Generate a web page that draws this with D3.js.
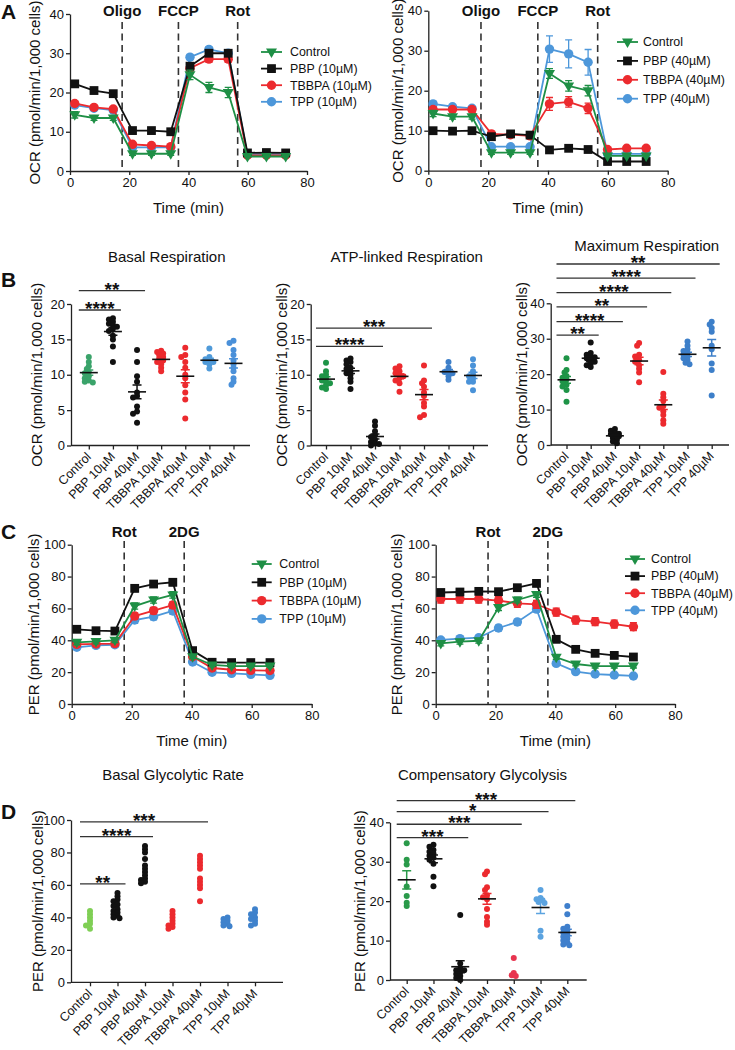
<!DOCTYPE html>
<html><head><meta charset="utf-8">
<script src="https://cdnjs.cloudflare.com/ajax/libs/d3/7.8.5/d3.min.js"></script>
<style>
body{margin:0;background:#fff;}
svg{font-family:"Liberation Sans",Arial,Helvetica,sans-serif;}
</style></head><body>
<script>
// ================= DATA =================
const seriesNames = ["Control","PBP","TBBPA","TPP"];
const legend10 = ["Control","PBP (10µM)","TBBPA (10µM)","TPP (10µM)"];
const legend40 = ["Control","PBP (40µM)","TBBPA (40µM)","TPP (40µM)"];
const categories = ["Control","PBP 10µM","PBP 40µM","TBBPA 10µM","TBBPA 40µM","TPP 10µM","TPP 40µM"];

// Panel A: OCR time course (pmol/min/1,000 cells)
const timeOCR = [1.6,8.1,14.6,21.1,27.5,34,40.5,46.9,53.4,59.9,66.3,72.8];
const ocrInjections = ["Oligo","FCCP","Rot"];
const ocrInjectionTimes = [17.6,36.6,56.6];
const ocr10Control = [14.3,13.5,13.5,4.4,4.4,4.4,24.5,21.3,20.0,3.7,3.7,3.7];
const ocr10PBP     = [22.2,20.5,19.7,10.3,10.3,10.0,26.7,30.0,30.0,4.6,4.7,4.6];
const ocr10TBBPA   = [17.2,16.2,15.8,6.8,6.5,6.2,26.2,28.5,28.5,4.0,4.0,4.0];
const ocr10TPP     = [16.8,16.0,15.5,6.0,6.0,6.0,29.0,31.0,30.0,4.2,4.2,4.2];
const ocr10ControlErr = [0.8,0.6,0.6,0.4,0.4,0.4,1.2,1.3,1.3,0.3,0.3,0.3];
const ocr10PBPErr     = [0.6,0.5,0.5,0.4,0.4,0.4,0.8,0.8,0.8,0.3,0.3,0.3];
const ocr10TBBPAErr   = [0.5,0.5,0.5,0.4,0.4,0.4,0.8,0.8,0.8,0.3,0.3,0.3];
const ocr10TPPErr     = [0.5,0.5,0.5,0.4,0.4,0.4,0.6,0.6,0.6,0.3,0.3,0.3];
const ocr40Control = [14.3,13.5,13.5,4.5,4.5,4.5,24.3,21.2,20.0,3.7,3.7,3.7];
const ocr40PBP     = [10.0,9.9,10.0,8.5,9.2,8.9,5.2,5.6,5.3,2.3,2.3,2.3];
const ocr40TBBPA   = [15.3,15.3,15.3,9.2,9.0,8.7,16.7,17.2,15.6,5.3,5.6,5.6];
const ocr40TPP     = [16.7,16.0,15.6,6.0,6.0,6.0,30.4,29.2,27.1,4.2,4.2,4.2];
const ocr40ControlErr = [0.8,0.6,0.6,0.4,0.4,0.4,1.2,1.3,1.3,0.3,0.3,0.3];
const ocr40PBPErr     = [0.6,0.5,0.5,0.5,0.4,0.4,0.4,0.4,0.4,0.2,0.2,0.2];
const ocr40TBBPAErr   = [0.6,0.6,0.6,0.6,0.5,0.5,1.6,1.3,1.3,0.4,0.4,0.4];
const ocr40TPPErr     = [0.6,0.5,0.5,0.4,0.4,0.4,3.3,3.5,3.2,0.4,0.4,0.4];

// Panel B: individual wells
const basalResp = [
  [12.5,11.8,11.2,10.8,10.4,10.2,9.8,9.5,9.2,9.0,8.9],
  [18,17.8,17.5,17.2,17,16.8,16.5,16.2,15.5,15,14,11.8],
  [13.5,11.8,9.8,9,7,7.5,6.8,5.5,4.5,4.8,3.2],
  [13.4,13.2,13,12.8,12.5,12.2,12,11.8,11.5,11,10.5],
  [13.8,12.8,12.5,11.8,11,10,9.5,8.5,7.5,6.5,3.8],
  [13.7,12.5,12.2,12,11.8,11.5,11.8,10.9],
  [14.8,14.5,13.5,12.8,12,11.5,11,10.5,9.5,9,8.6]
];
const atpResp = [
  [11.7,10.5,10,9.8,9.5,9.2,9,8.8,8.5,8.2,8],
  [12.3,12,11.8,11.5,11,10.8,10.5,10.2,10,9.5,9,8],
  [3.4,2.8,2,1.5,1.2,0.8,0.5,0.3,0.2,0],
  [11.2,10.9,10.5,10.2,10,9.8,9.5,9.2,8.8,7.6],
  [11.3,9.2,8.8,8.3,7.5,7,6,5.5,4.3,4],
  [11.8,11,10.5,10.4,10.2,9.8,9.3],
  [12.2,11.3,10.5,10,9.5,9,9.8,9,7.8]
];
const maxResp = [
  [24.5,21.2,20.5,19.5,19,18.5,18,17,16.5,15.5,12.2],
  [28.9,26,25.5,25,24.8,24.5,24.2,24,23.5,23,22.5,22],
  [4.5,4,3.5,3.2,3,2.8,2.5,2,1.5,1,0.5],
  [28.8,28,25.5,25,24,23.5,22.5,21.5,20.5,17.7],
  [20.6,14.5,13.5,12.5,11,10.5,9.5,8.5,7,6],
  [29.2,28,27,26.5,26,25.5,25,24.5,24,23.2,22.8],
  [34.8,34,33,32,28,27,23,21.2,14]
];
const basalSig = [{to:1,label:"****",at:19.15},{to:2,label:"**",at:21.9}];
const atpSig   = [{to:2,label:"****",at:14.0},{to:4,label:"***",at:16.6}];
const maxSig   = [{to:1,label:"**",at:31.0},{to:2,label:"****",at:34.8},{to:3,label:"**",at:39.0},
                  {to:4,label:"****",at:43.0},{to:5,label:"****",at:47.1},{to:6,label:"**",at:51.1}];

// Panel C: PER time course
const timePER = [1.7,8.1,14.4,21,27.3,33.7,40.3,46.8,53.3,59.7,66.1];
const perInjections = ["Rot","2DG"];
const perInjectionTimes = [17.5,37.5];
const per10Control = [38.7,39.3,40.0,61.5,65.3,68.5,29.7,24.5,23.8,23.8,23.8];
const per10PBP     = [46.9,46.0,45.8,72.6,75.3,76.4,33.5,26.2,26.0,26.0,26.0];
const per10TBBPA   = [37.4,37.7,37.9,55.2,58.6,62.1,29.7,22.6,21.5,21.1,21.0];
const per10TPP     = [35.6,36.8,37.2,52.7,54.8,58.4,26.4,19.9,19.2,18.6,18.0];
const per10Err     = [1.5,1.5,1.5,2.0,2.0,2.0,1.2,1.0,1.0,1.0,1.0];
const per40Control = [38.0,39.1,39.7,60.5,65.3,68.8,29.3,25.1,23.8,23.8,23.8];
const per40PBP     = [70.0,70.3,70.7,70.5,73.0,75.7,40.6,34.3,31.8,30.5,29.5];
const per40TBBPA   = [65.9,65.9,65.9,64.9,63.2,62.6,57.7,52.7,51.7,50.2,48.5];
const per40TPP     = [40.2,41.0,41.6,47.7,51.5,59.6,25.5,20.3,18.8,18.2,17.6];
const per40Err     = [1.5,1.5,1.5,1.8,1.8,1.8,1.3,1.2,1.2,1.2,1.2];
const per40TBBPAErr= [2.5,2.5,2.5,2.5,2.5,2.5,2.5,2.5,2.5,2.5,2.5];

// Panel D: individual wells
const basalGlyco = [
  [44,42,40,38,36,35,33],
  [55,53,51,50,48,47,45,44,43,42,41,40,39.5],
  [84,82,80,76,72,70,68,66,64,63,62,61],
  [44,42,40,38,36,35,34,33],
  [78,76,74,72,70,64,62,60,58,50],
  [40,39,38,37,36,35,34.5],
  [45,43,42,40,39,38,36,35]
];
const compGlyco = [
  [34.7,30.5,29.3,23.7,21.3,19.6,18.8],
  [34.3,33.8,33,32.5,32,31.5,31,30.5,29.5,26.2,23.8],
  [16.5,4.2,2.5,3,2.5,2,1.5,1,0.5,0],
  [27.5,26.8,23.5,22.8,21.5,20.5,21,18,16,14.8,14],
  [5.6,1.8,1.2,1.0],
  [22.8,20.5,20.8,20.2,19.8,19.5,12.5,11],
  [18.8,16.7,13.5,13,12.5,12,11.5,11,10.5,10,9.5,9,8.8]
];
const glycoSig = [{to:1,label:"**",at:60.6},{to:2,label:"****",at:89.7},{to:4,label:"***",at:98.9}];
const compSig  = [{to:2,label:"***",at:36.1},{to:4,label:"***",at:39.5},{to:5,label:"*",at:42.7},{to:6,label:"***",at:45.5}];

// ================= DRAWING =================
const svg = d3.select("body").append("svg").attr("width",735).attr("height",1050);
const GREEN="#1e8f45", BLACK="#111", RED="#ec2a2e", BLUE="#4d97da";
const seriesColors=[GREEN,BLACK,RED,BLUE];
const seriesShapes=["tri","sq","ci","ci"];

function styleAxis(g){
  g.attr("font-size",13).attr("font-family",null);
  g.selectAll("path,line").attr("stroke","#222").attr("stroke-width",1.3);
  g.selectAll("text").attr("fill","#111");
}
function drawMarker(g,shape,cx,cy,color){
  if(shape==="tri"){
    g.append("path").attr("d",`M${cx-5.5},${cy-3.5}L${cx+5.5},${cy-3.5}L${cx},${cy+6}Z`).attr("fill",color);
  } else if(shape==="sq"){
    g.append("rect").attr("x",cx-4.4).attr("y",cy-4.4).attr("width",8.8).attr("height",8.8).attr("fill",color);
  } else {
    g.append("circle").attr("cx",cx).attr("cy",cy).attr("r",4.7).attr("fill",color);
  }
}
function yLabel(text,x,cy){
  svg.append("text").attr("transform",`translate(${x},${cy}) rotate(-90)`)
    .attr("text-anchor","middle").attr("dy","0.35em").attr("font-size",15).attr("fill","#111").text(text);
}
function panelLetter(t,x,y){
  svg.append("text").attr("x",x).attr("y",y).attr("font-size",21).attr("font-weight","bold").attr("fill","#111").text(t);
}

function timeCourse(c){
  const x=d3.scaleLinear([0,80],[c.xl,c.xr]);
  const y=d3.scaleLinear([0,c.yMax],[c.yb,c.yt]);
  const g=svg.append("g");
  c.injTimes.forEach((t,i)=>{
    g.append("line").attr("x1",x(t)).attr("x2",x(t)).attr("y1",c.dashTop).attr("y2",c.yb)
      .attr("stroke","#333").attr("stroke-width",1.6).attr("stroke-dasharray","7,4.5");
    g.append("text").attr("x",x(t)).attr("y",c.injY).attr("text-anchor","middle")
      .attr("font-size",15).attr("font-weight","bold").attr("fill","#111").text(c.injLabels[i]);
  });
  g.append("g").attr("transform",`translate(${c.xl},0)`)
    .call(d3.axisLeft(y).tickValues(d3.range(0,c.yMax+0.1,c.yStep)).tickSize(4).tickPadding(2).tickSizeOuter(0)).call(styleAxis);
  g.append("g").attr("transform",`translate(0,${c.yb})`)
    .call(d3.axisBottom(x).tickValues([0,20,40,60,80]).tickSize(4).tickPadding(3).tickSizeOuter(0)).call(styleAxis);
  const line=d3.line().x(d=>x(d[0])).y(d=>y(d[1]));
  [3,2,1,0].forEach(si=>{
    const s=c.series[si], col=seriesColors[si];
    const pts=c.times.map((t,i)=>[t,s.v[i],s.e[i]]);
    const sg=g.append("g");
    pts.forEach(p=>{
      if(p[2]>0.35){
        sg.append("path").attr("d",`M${x(p[0])},${y(p[1]-p[2])}V${y(p[1]+p[2])}M${x(p[0])-3.5},${y(p[1]+p[2])}H${x(p[0])+3.5}M${x(p[0])-3.5},${y(p[1]-p[2])}H${x(p[0])+3.5}`)
          .attr("stroke",col).attr("stroke-width",1.3).attr("fill","none");
      }
    });
    sg.append("path").datum(pts).attr("d",line).attr("fill","none").attr("stroke",col).attr("stroke-width",1.8);
    pts.forEach(p=>drawMarker(sg,seriesShapes[si],x(p[0]),y(p[1]),col));
  });
  c.legend.forEach((name,i)=>{
    const ly=c.lg.y+i*c.lg.dy;
    g.append("line").attr("x1",c.lg.x0).attr("x2",c.lg.x1).attr("y1",ly).attr("y2",ly).attr("stroke",seriesColors[i]).attr("stroke-width",1.8);
    drawMarker(g,seriesShapes[i],(c.lg.x0+c.lg.x1)/2,ly,seriesColors[i]);
    g.append("text").attr("x",c.lg.tx).attr("y",ly).attr("dy","0.35em").attr("font-size",12.4).attr("fill","#111").text(name);
  });
  yLabel(c.ylabel,c.ylx,(c.yt+c.yb)/2);
  g.append("text").attr("x",(c.xl+c.xr)/2).attr("y",c.xlabY).attr("text-anchor","middle").attr("font-size",15).attr("fill","#111").text("Time (min)");
}

function dotPlot(c){
  const x=d3.scalePoint(categories,[c.first,c.last]);
  const y=d3.scaleLinear([0,c.yMax],[c.yb,c.yt]);
  const g=svg.append("g");
  g.append("g").attr("transform",`translate(${c.xl},0)`)
    .call(d3.axisLeft(y).tickValues(d3.range(0,c.yMax+0.1,c.yStep)).tickSize(4).tickPadding(2).tickSizeOuter(0)).call(styleAxis);
  const xa=g.append("g").attr("transform",`translate(0,${c.yb})`)
    .call(d3.axisBottom(x).tickSize(4).tickSizeOuter(0).tickFormat("")).call(styleAxis);
  xa.select(".domain").remove();
  g.append("line").attr("x1",c.xl).attr("x2",c.xe).attr("y1",c.yb).attr("y2",c.yb).attr("stroke","#222").attr("stroke-width",1.3);
  categories.forEach(cat=>{
    g.append("text").attr("transform",`translate(${x(cat)+3},${c.yb+12}) rotate(-45)`)
      .attr("text-anchor","end").attr("font-size",12.5).attr("fill","#111").text(cat);
  });
  const r=3;
  c.data.forEach((vals,gi)=>{
    const cx=x(categories[gi]), col=c.colors[gi];
    const placed=[];
    vals.slice().sort((a,b)=>b-a).forEach(v=>{
      const py=y(v); let best=null,bestD=-1;
      for(const k of [0,-1,1,-2,2]){
        const px=cx+k*2;
        const md=placed.length?d3.min(placed,p=>Math.hypot(p[0]-px,p[1]-py)):99;
        if(md>=r*1.0){best=px;break;}
        if(md>bestD){bestD=md;best=px;}
      }
      placed.push([best,py]);
      g.append("circle").attr("cx",best).attr("cy",py).attr("r",r).attr("fill",col);
    });
    if(c.showMean && vals.length>=5){
      const m=d3.mean(vals), se=d3.deviation(vals)/Math.sqrt(vals.length);
      g.append("path").attr("d",`M${cx},${y(m-se)}V${y(m+se)}M${cx-4.5},${y(m+se)}H${cx+4.5}M${cx-4.5},${y(m-se)}H${cx+4.5}`)
        .attr("stroke",col).attr("stroke-width",1.5).attr("fill","none");
      g.append("line").attr("x1",cx-9).attr("x2",cx+9).attr("y1",y(m)).attr("y2",y(m)).attr("stroke","#111").attr("stroke-width",1.6);
    }
  });
  c.sig.forEach(s=>{
    const x1=x(categories[0])-10, x2=x(categories[s.to])+8, yy=y(s.at);
    g.append("line").attr("x1",x1).attr("x2",x2).attr("y1",yy).attr("y2",yy).attr("stroke","#333").attr("stroke-width",1.3);
    g.append("text").attr("x",(x1+x2)/2).attr("y",yy+5).attr("text-anchor","middle").attr("font-size",19).attr("font-weight","bold").attr("fill","#111").text(s.label);
  });
  g.append("text").attr("x",c.tx).attr("y",c.ty).attr("dy","0.35em").attr("text-anchor","middle").attr("font-size",15).attr("fill","#111").text(c.title);
  yLabel(c.ylabel,c.ylx,(c.yt+c.yb)/2);
}

const OCRL="OCR (pmol/min/1,000 cells)", PERL="PER (pmol/min/1,000 cells)";

// ---- A ----
panelLetter("A",1,19);
timeCourse({xl:70,xr:307,yt:14,yb:171,yMax:40,yStep:10,times:timeOCR,
  injTimes:ocrInjectionTimes,injLabels:ocrInjections,injY:16,dashTop:22,
  series:[{v:ocr10Control,e:ocr10ControlErr},{v:ocr10PBP,e:ocr10PBPErr},{v:ocr10TBBPA,e:ocr10TBBPAErr},{v:ocr10TPP,e:ocr10TPPErr}],
  legend:legend10,lg:{x0:261,x1:282,tx:290,y:52,dy:16.6},ylabel:OCRL,ylx:35,xlabY:213});
timeCourse({xl:428.3,xr:667.7,yt:10.7,yb:170.7,yMax:40,yStep:10,times:timeOCR,
  injTimes:ocrInjectionTimes,injLabels:ocrInjections,injY:16,dashTop:22,
  series:[{v:ocr40Control,e:ocr40ControlErr},{v:ocr40PBP,e:ocr40PBPErr},{v:ocr40TBBPA,e:ocr40TBBPAErr},{v:ocr40TPP,e:ocr40TPPErr}],
  legend:legend40,lg:{x0:617,x1:638,tx:643,y:42,dy:18.9},ylabel:OCRL,ylx:398,xlabY:213});

// ---- B ----
panelLetter("B",1,287);
dotPlot({xl:71,xe:250,first:88.8,last:233.5,yt:304,yb:445.5,yMax:20,yStep:5,data:basalResp,
  colors:["#3aa36a",BLACK,BLACK,RED,RED,"#4f9ad9","#4a90d9"],sig:basalSig,showMean:true,
  title:"Basal Respiration",tx:166.7,ty:257,ylabel:OCRL,ylx:36.5});
dotPlot({xl:310.7,xe:488,first:326,last:473,yt:304,yb:445.5,yMax:20,yStep:5,data:atpResp,
  colors:["#1e9447",BLACK,BLACK,RED,RED,"#3d7fc9","#4a92d8"],sig:atpSig,showMean:true,
  title:"ATP-linked Respiration",tx:406.7,ty:257,ylabel:OCRL,ylx:281.5});
dotPlot({xl:550.7,xe:729,first:566.5,last:711.7,yt:303.3,yb:445,yMax:40,yStep:10,data:maxResp,
  colors:["#1e9447",BLACK,BLACK,RED,RED,"#3d7fc9","#3d7fc9"],sig:maxSig,showMean:true,
  title:"Maximum Respiration",tx:646.7,ty:245.7,ylabel:OCRL,ylx:521.5});

// ---- C ----
panelLetter("C",1,539);
timeCourse({xl:71.7,xr:311.7,yt:544.7,yb:704,yMax:100,yStep:20,times:timePER,
  injTimes:perInjectionTimes,injLabels:perInjections,injY:537,dashTop:541,
  series:[{v:per10Control,e:per10Err},{v:per10PBP,e:per10Err},{v:per10TBBPA,e:per10Err},{v:per10TPP,e:per10Err}],
  legend:legend10,lg:{x0:251.7,x1:271.7,tx:279.3,y:564,dy:18.3},ylabel:PERL,ylx:34,xlabY:746});
timeCourse({xl:435.7,xr:675,yt:544.7,yb:704,yMax:100,yStep:20,times:timePER,
  injTimes:perInjectionTimes,injLabels:perInjections,injY:537,dashTop:541,
  series:[{v:per40Control,e:per40Err},{v:per40PBP,e:per40Err},{v:per40TBBPA,e:per40TBBPAErr},{v:per40TPP,e:per40Err}],
  legend:legend40,lg:{x0:625,x1:645,tx:651,y:559,dy:17.1},ylabel:PERL,ylx:397,xlabY:746});

// ---- D ----
panelLetter("D",1,819);
dotPlot({xl:71,xe:283,first:90,last:255,yt:820,yb:982.3,yMax:100,yStep:20,data:basalGlyco,
  colors:["#7fcf55",BLACK,BLACK,RED,RED,"#3f82cc","#3f82cc"],sig:glycoSig,showMean:false,
  title:"Basal Glycolytic Rate",tx:173,ty:775,ylabel:PERL,ylx:38});
dotPlot({xl:390,xe:586.7,first:406.7,last:567.3,yt:822.3,yb:980,yMax:40,yStep:10,data:compGlyco,
  colors:["#2a9a4a",BLACK,BLACK,RED,"#e8344f","#5ba3e0","#3f7fcc"],sig:compSig,showMean:true,
  title:"Compensatory Glycolysis",tx:482.5,ty:775,ylabel:PERL,ylx:360});
</script>
</body></html>
